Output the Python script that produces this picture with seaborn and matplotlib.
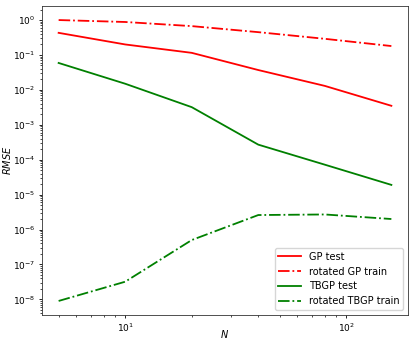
import numpy as np
import pandas as pd
import matplotlib
matplotlib.use("Agg")
import matplotlib.pyplot as plt
import seaborn as sns

N = [5, 10, 20, 40, 80, 160]
gp_test = [0.43, 0.20, 0.115, 0.037, 0.013, 0.0035]
gp_rot_train = [1.0, 0.88, 0.67, 0.45, 0.29, 0.18]
tbgp_test = [0.059, 0.015, 0.0032, 2.7e-4, 7.2e-5, 1.9e-5]
tbgp_rot_train = [9e-9, 3.2e-8, 5e-7, 2.6e-6, 2.7e-6, 2.0e-6]

series = [("GP test", gp_test, "red", "-"),
          ("rotated GP train", gp_rot_train, "red", "-."),
          ("TBGP test", tbgp_test, "green", "-"),
          ("rotated TBGP train", tbgp_rot_train, "green", "-.")]

plt.rcParams.update({
    'font.size': 7,
    'axes.linewidth': 0.6,
    'axes.edgecolor': '#333333',
    'xtick.labelsize': 6.5, 'ytick.labelsize': 6.5,
    'xtick.major.size': 2.5, 'ytick.major.size': 2.5,
    'xtick.minor.size': 1.5, 'ytick.minor.size': 1.5,
    'xtick.major.width': 0.6, 'ytick.major.width': 0.6,
    'xtick.minor.width': 0.5, 'ytick.minor.width': 0.5,
    'xtick.major.pad': 2.5, 'ytick.major.pad': 2.5,
    'legend.fontsize': 7,
})
fig, ax = plt.subplots(figsize=(4.15, 3.46), dpi=100)
for name, vals, col, ls in series:
    df = pd.DataFrame({'N': N, 'RMSE': vals})
    sns.lineplot(data=df, x='N', y='RMSE', color=col, linestyle=ls,
                 lw=1.3, label=name, ax=ax)
ax.set_xscale('log')
ax.set_yscale('log')
ax.tick_params(which='minor', labelbottom=False, labelleft=False)
ax.set_xlabel('$N$')
ax.set_ylabel('$RMSE$')
ax.xaxis.set_label_coords(0.5, -0.043)
ax.yaxis.set_label_coords(-0.08, 0.5)
ax.legend(loc='lower right', handlelength=2.3)
plt.subplots_adjust(left=42/415, right=408/415, top=1-6/346, bottom=1-315/346)
plt.savefig('out.png')
